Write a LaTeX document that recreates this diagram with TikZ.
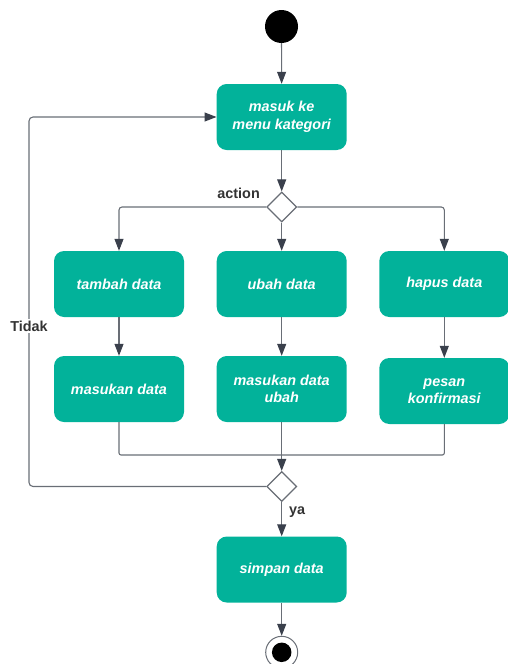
\documentclass[tikz,border=0pt]{standalone}
\usepackage{fontspec}
\setmainfont{Liberation Sans}
\usetikzlibrary{arrows.meta,shapes.geometric}
\definecolor{teal1}{RGB}{2,178,154}
\definecolor{linec}{RGB}{105,110,118}
\definecolor{arrc}{RGB}{58,64,76}
\definecolor{labc}{RGB}{51,51,51}
\begin{document}
\begin{tikzpicture}[x=1pt,y=-1pt,
 actbox/.style={rectangle, rounded corners=10pt, fill=teal1, minimum width=130pt, minimum height=66pt, inner sep=0pt, text=white, align=center, font=\fontsize{14.4}{17.6}\selectfont\bfseries\itshape},
 decis/.style={diamond, draw=linec, line width=1.2pt, fill=white, minimum width=30pt, minimum height=30pt, inner sep=0pt},
 conn/.style={draw=linec, line width=1.1pt},
 arr/.style={conn, -{Triangle[length=12pt,width=9pt,color=arrc]}},
 lab/.style={text=labc, font=\fontsize{14.4}{17}\selectfont\bfseries, inner sep=1pt}
]
\useasboundingbox (0,0) rectangle (507,664);
\node[circle, fill=black, minimum size=33pt, inner sep=0pt] (start) at (281.5,26.5) {};
\node[actbox] (menu) at (281.7,117) {masuk ke\\menu kategori};
\node[decis] (d1) at (281.7,207) {};
\node[lab, anchor=east] (action) at (261,193) {action};
\node[actbox] (tambah) at (119,284) {tambah data};
\node[actbox] (ubah) at (281.7,284) {ubah data};
\node[actbox] (hapus) at (444.3,284) {hapus data};
\node[actbox] (masukan) at (119,389) {masukan data};
\node[actbox] (masukanubah) at (281.7,389) {masukan data\\ubah};
\node[actbox] (pesan) at (444.3,391) {pesan\\konfirmasi};
\coordinate (joinc) at (281.7,455);
\node[decis] (d2) at (281.7,486.5) {};
\node[actbox] (simpan) at (281.7,569.5) {simpan data};
\node[circle, draw=linec, line width=1pt, fill=white, minimum size=32pt, inner sep=0pt] (endc) at (281.7,652.3) {};
\node[circle, fill=black, minimum size=19.5pt, inner sep=0pt] (endin) at (endc) {};
\coordinate (loopc) at (29,326);

\draw[arr] (start) -- (menu);
\draw[arr] (menu) -- (d1);
\draw[arr, rounded corners=3pt] (d1.west) -| (tambah.north);
\draw[arr] (d1) -- (ubah);
\draw[arr, rounded corners=3pt] (d1.east) -| (hapus.north);
\draw[arr] (tambah) -- (masukan);
\draw[arr] (ubah) -- (masukanubah);
\draw[arr] (hapus) -- (pesan);
\draw[conn, rounded corners=2pt] (masukan.south) |- (joinc) -| (pesan.south);
\draw[arr] (masukanubah) -- (d2);
\draw[arr] (d2) -- (simpan);
\node[lab, anchor=west] (ya) at (288,512) {ya};
\draw[arr] (simpan) -- (endc);
\draw[arr, rounded corners=4pt] (d2.west) -| (loopc) |- (menu.west);
\node[lab, fill=white, inner sep=2pt] (tidak) at (loopc) {Tidak};
\end{tikzpicture}
\end{document}
